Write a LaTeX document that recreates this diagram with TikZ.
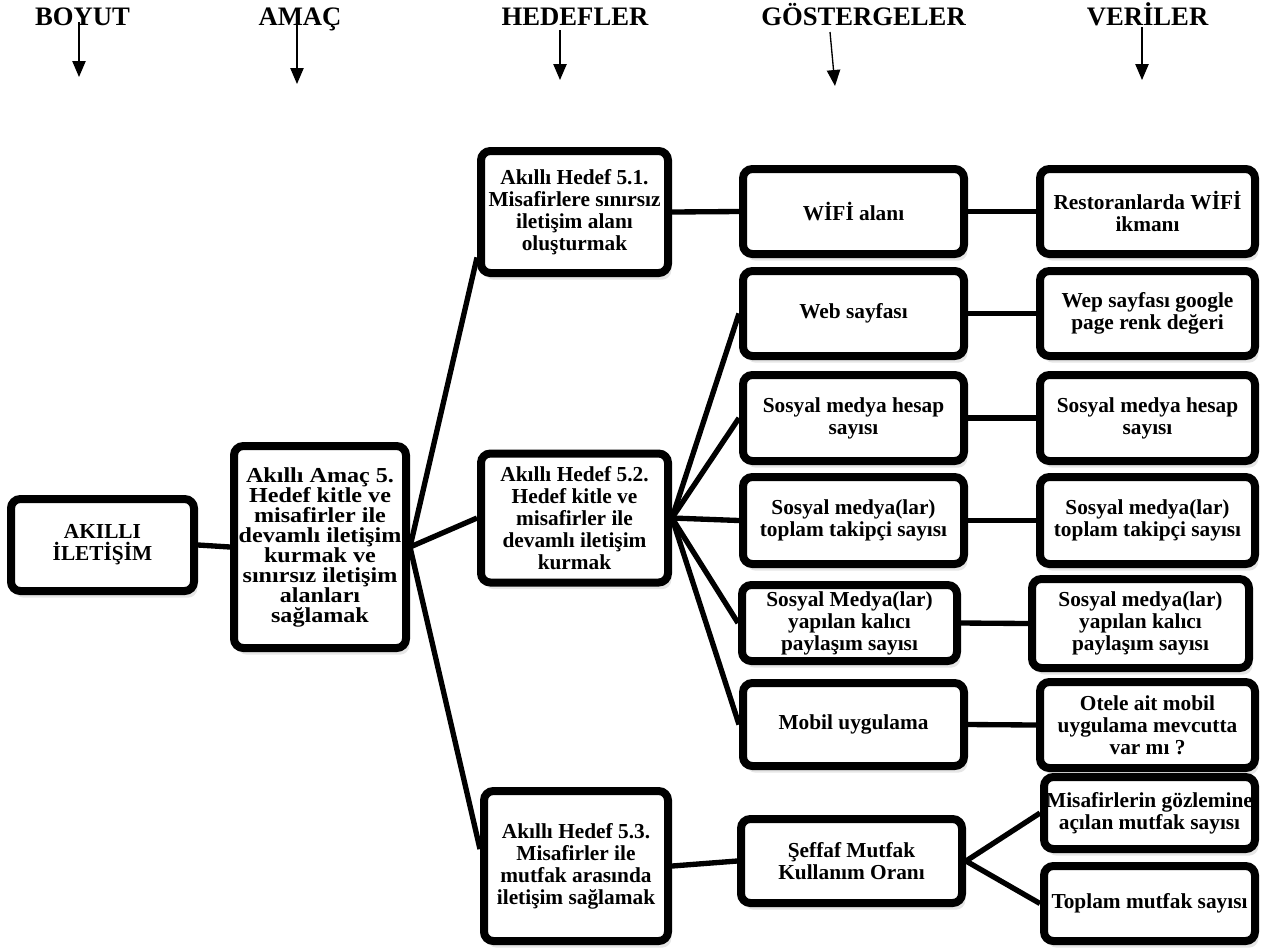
\documentclass[tikz,border=0pt]{standalone}
\usepackage{fontspec}
\setmainfont{Liberation Serif}
\newfontfamily\widefont{Liberation Serif}[FakeStretch=1.13]
\usetikzlibrary{arrows.meta,shadows}
\begin{document}
\begin{tikzpicture}[x=0.75pt,y=-0.75pt,
  bx/.style={draw, line width=6pt, rounded corners=7pt, fill=white,
    align=center, inner sep=0pt,
    drop shadow={shadow xshift=2.5pt, shadow yshift=-5pt, opacity=.2},
    font=\bfseries\fontsize{16}{16.5}\selectfont},
  sz/.style 2 args={minimum width={#1*0.75pt}, minimum height={#2*0.75pt}},
  con/.style={line width=4pt},
  hdr/.style={anchor=base, inner sep=0pt, font=\bfseries\fontsize{20}{20}\selectfont},
  arr/.style={line width=1pt, -{Triangle[length=12pt,width=10pt]}}]
\useasboundingbox (0,0) rectangle (1266,951);

% headers
\node[hdr] (hb) at (82.5,25) {BOYUT};
\node[hdr] (ha) at (300,25) {AMAÇ};
\node[hdr] (hh) at (575,25) {HEDEFLER};
\node[hdr] (hg) at (863.5,25) {GÖSTERGELER};
\node[hdr] (hv) at (1147.5,25) {VERİLER};
\coordinate (b1) at (79,22);  \coordinate (b2) at (79,77);
\coordinate (a1) at (297,24); \coordinate (a2) at (297,84);
\coordinate (h1) at (560,30); \coordinate (h2) at (560,80);
\coordinate (g1) at (830,32); \coordinate (g2) at (835,86);
\coordinate (v1) at (1142,27); \coordinate (v2) at (1142,80);
\draw[arr] (b1) -- (b2);
\draw[arr] (a1) -- (a2);
\draw[arr] (h1) -- (h2);
\draw[arr] (g1) -- (g2);
\draw[arr] (v1) -- (v2);

% boxes
\node[bx, sz={183}{92}] (akilli) at (102.5,545) {AKILLI\\İLETİŞİM};
\node[bx, sz={172}{202}, font=\bfseries\widefont\fontsize{16}{15}\selectfont] (amac) at (320,547)
  {Akıllı Amaç 5.\\Hedef kitle ve\\misafirler ile\\devamlı iletişim\\kurmak ve\\sınırsız iletişim\\alanları\\sağlamak};
\node[bx, sz={187}{122}] (h51) at (574.5,212)
  {Akıllı Hedef 5.1.\\Misafirlere sınırsız\\iletişim alanı\\oluşturmak};
\node[bx, sz={187}{129}] (h52) at (574.5,518)
  {Akıllı Hedef 5.2.\\Hedef kitle ve\\misafirler ile\\devamlı iletişim\\kurmak};
\node[bx, sz={184}{150}] (h53) at (576,866)
  {Akıllı Hedef 5.3.\\Misafirler ile\\mutfak arasında\\iletişim sağlamak};

\node[bx, sz={221}{85}] (wifi) at (853.5,211.5) {WİFİ alanı};
\node[bx, sz={221}{85}] (web) at (853.5,313.5) {Web sayfası};
\node[bx, sz={221}{86}] (hesap) at (853.5,418) {Sosyal medya hesap\\sayısı};
\node[bx, sz={221}{87}] (takip) at (853.5,520.5) {Sosyal medya(lar)\\toplam takipçi sayısı};
\node[bx, sz={215}{76}] (payl) at (849.5,623) {Sosyal Medya(lar)\\yapılan kalıcı\\paylaşım sayısı};
\node[bx, sz={221}{83}] (mobil) at (853.5,724.5) {Mobil uygulama};
\node[bx, sz={221}{84}] (seffaf) at (851.5,861) {Şeffaf Mutfak\\Kullanım Oranı};

\node[bx, sz={215}{85}] (rest) at (1147.5,211.5) {Restoranlarda WİFİ\\ikmanı};
\node[bx, sz={215}{85}] (wep) at (1147.5,313.5) {Wep sayfası google\\page renk değeri};
\node[bx, sz={215}{86}] (rhesap) at (1147.5,418) {Sosyal medya hesap\\sayısı};
\node[bx, sz={215}{87}] (rtakip) at (1147.5,520.5) {Sosyal medya(lar)\\toplam takipçi sayısı};
\node[bx, sz={217}{89}] (rpayl) at (1140.5,623.5) {Sosyal medya(lar)\\yapılan kalıcı\\paylaşım sayısı};
\node[bx, sz={215}{86}] (otele) at (1147.5,725) {Otele ait mobil\\uygulama mevcutta\\var mı ?};
\node[bx, sz={211}{72}] (misaf) at (1149.5,813) {Misafirlerin gözlemine\\açılan mutfak sayısı};
\node[bx, sz={211}{75}] (toplam) at (1149.5,903.5) {Toplam mutfak sayısı};

% connectors
\draw[con] (akilli.east) -- (amac.west);
\draw[con] (amac.east) -- (h51.205);
\draw[con] (amac.east) -- (h52.west);
\draw[con] (amac.east) -- (h53.170);
\draw[con] (h51.east) -- (wifi.west);
\draw[con] (h52.east) -- (web.west);
\draw[con] (h52.east) -- (hesap.west);
\draw[con] (h52.east) -- (takip.west);
\draw[con] (h52.east) -- (payl.west);
\draw[con] (h52.east) -- (mobil.west);
\draw[con] (h53.east) -- (seffaf.west);
\draw[con] (wifi.east) -- (rest.west);
\draw[con] (web.east) -- (wep.west);
\draw[con] (hesap.east) -- (rhesap.west);
\draw[con] (takip.east) -- (rtakip.west);
\draw[con] (payl.east) -- (rpayl.west);
\draw[con] (mobil.east) -- (otele.west);
\draw[con] (seffaf.east) -- (misaf.west);
\draw[con] (seffaf.east) -- (toplam.west);
\end{tikzpicture}
\end{document}
